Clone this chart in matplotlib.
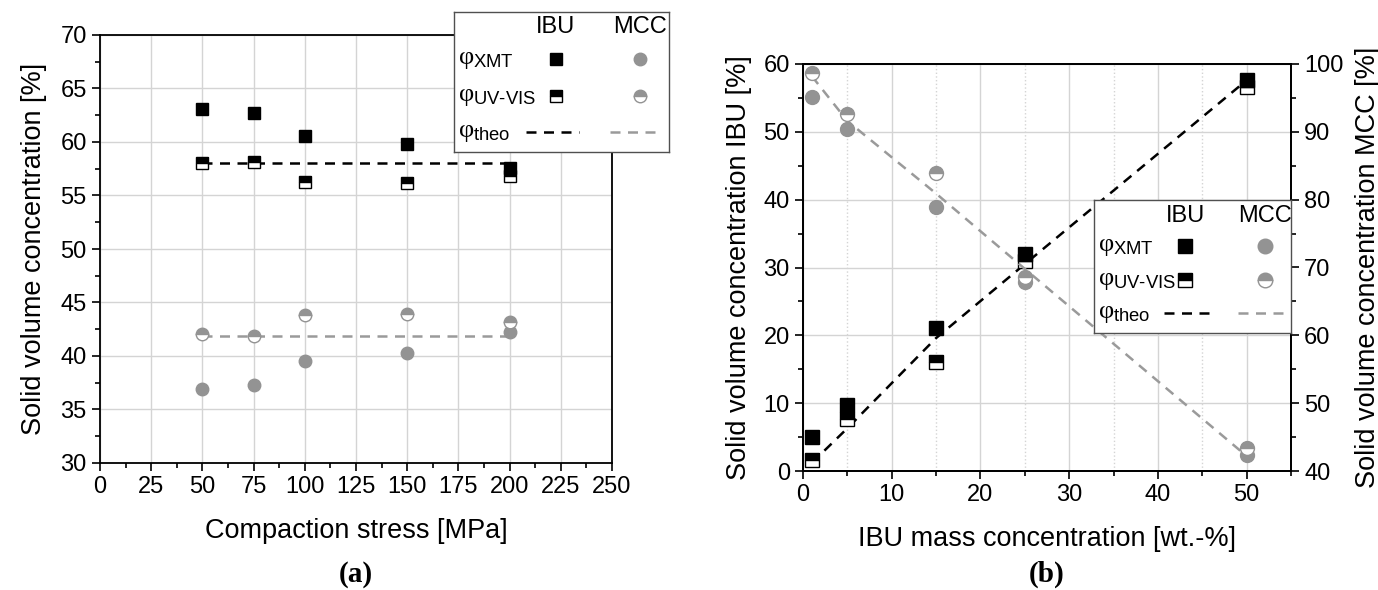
import matplotlib

matplotlib.use("Agg")
import matplotlib.pyplot as plt
from matplotlib.lines import Line2D
from matplotlib.ticker import MultipleLocator

plt.rcParams["font.family"] = ["Liberation Sans", "DejaVu Sans"]
plt.rcParams["mathtext.fontset"] = "custom"
plt.rcParams["mathtext.rm"] = "Liberation Sans"
plt.rcParams["mathtext.it"] = "Liberation Serif"

# (a) solid volume concentration vs compaction stress
stress = [50, 75, 100, 150, 200]
ibu_xmt_a = [63.1, 62.7, 60.6, 59.8, 57.6]
ibu_uv_a = [58.0, 58.1, 56.3, 56.2, 56.8]
mcc_xmt_a = [36.9, 37.3, 39.5, 40.3, 42.2]
mcc_uv_a = [42.1, 41.9, 43.8, 43.9, 43.2]
ibu_theo_a = [58.0, 58.0, 58.0, 58.0, 58.0]
mcc_theo_a = [41.9, 41.9, 41.9, 41.9, 41.9]

# (b) solid volume concentration vs IBU mass concentration
ibu_conc = [1, 5, 15, 25, 50]
ibu_xmt_b = [5.0, 9.7, 21.1, 32.0, 57.7]
ibu_uv_b = [1.6, 7.6, 16.1, 31.0, 56.6]
mcc_xmt_b = [95.2, 90.4, 78.9, 67.9, 42.4]
mcc_uv_b = [98.7, 92.7, 84.0, 68.6, 43.4]
ibu_theo_b = [1.2, 6.3, 19.6, 30.5, 57.6]
mcc_theo_b = [98.2, 91.6, 80.9, 69.8, 42.2]

GRAY = "#939393"
LINE_GRAY = "#9a9a9a"
GRID = "#d4d4d4"
W, H = 1378, 590
TICK_FS = 17
LABEL_FS = 19.5
DASH = (0, (4, 3))


def px_box(x0, y0, x1, y1):
    return [x0 / W, 1 - y1 / H, (x1 - x0) / W, (y1 - y0) / H]


def square(ax, x, y, half, ms, **kw):
    style = dict(marker="s", linestyle="none", ms=ms, mec="black", mew=1.0, mfc="black")
    if half:
        style.update(fillstyle="top", markerfacecoloralt="white")
    style.update(kw)
    ax.plot(x, y, **style)


def circle(ax, x, y, half, ms, **kw):
    style = dict(marker="o", linestyle="none", ms=ms, mec=GRAY, mew=1.0, mfc=GRAY)
    if half:
        style.update(fillstyle="top", markerfacecoloralt="white")
    style.update(kw)
    ax.plot(x, y, **style)


def style_axis(ax):
    for spine in ax.spines.values():
        spine.set_linewidth(1.3)
    ax.tick_params(which="both", direction="out", labelsize=TICK_FS, width=1.2)
    ax.tick_params(which="major", length=6)
    ax.tick_params(which="minor", length=3.5)


def legend_box(fig, rect, ms, cols, rows, lines):
    lax = fig.add_axes(rect, zorder=10)
    lax.set_xlim(0, 1)
    lax.set_ylim(0, 1)
    lax.set_xticks([])
    lax.set_yticks([])
    for spine in lax.spines.values():
        spine.set_linewidth(1.0)
        spine.set_color("#505050")
    ibu_x, mcc_x = cols
    head_y, xmt_y, uv_y, theo_y = rows
    lax.text(ibu_x, head_y, "IBU", ha="center", va="center", fontsize=17)
    lax.text(mcc_x, head_y, "MCC", ha="center", va="center", fontsize=17)
    lax.text(0.02, xmt_y, r"$\varphi_{\mathrm{XMT}}$", ha="left", va="center", fontsize=19)
    lax.text(0.02, uv_y, r"$\varphi_{\mathrm{UV\text{-}VIS}}$", ha="left", va="center", fontsize=19)
    lax.text(0.02, theo_y, r"$\varphi_{\mathrm{theo}}$", ha="left", va="center", fontsize=19)
    square(lax, [ibu_x], [xmt_y], False, ms)
    square(lax, [ibu_x], [uv_y], True, ms)
    circle(lax, [mcc_x], [xmt_y], False, ms + 1)
    circle(lax, [mcc_x], [uv_y], True, ms + 1)
    (b0, b1), (g0, g1) = lines
    lax.add_line(Line2D([b0, b1], [theo_y, theo_y], color="black", lw=1.8, linestyle=DASH))
    lax.add_line(Line2D([g0, g1], [theo_y, theo_y], color=LINE_GRAY, lw=1.8, linestyle=DASH))


fig = plt.figure(figsize=(W / 100, H / 100), dpi=100)

# ---- panel (a)
ax = fig.add_axes(px_box(100, 35, 612, 463))
ax.set_xlim(0, 250)
ax.set_ylim(30, 70)
ax.xaxis.set_major_locator(MultipleLocator(25))
ax.xaxis.set_minor_locator(MultipleLocator(12.5))
ax.yaxis.set_major_locator(MultipleLocator(5))
ax.yaxis.set_minor_locator(MultipleLocator(2.5))
ax.grid(True, which="major", color=GRID, lw=1.0)
ax.set_axisbelow(True)
style_axis(ax)
ax.plot(stress, ibu_theo_a, color="black", lw=1.8, linestyle=DASH)
ax.plot(stress, mcc_theo_a, color=LINE_GRAY, lw=1.8, linestyle=DASH)
square(ax, stress, ibu_uv_a, True, 8)
square(ax, stress, ibu_xmt_a, False, 8)
circle(ax, stress, mcc_xmt_a, False, 9)
circle(ax, stress, mcc_uv_a, True, 9)
ax.set_xlabel("Compaction stress [MPa]", fontsize=LABEL_FS, labelpad=14)
ax.set_ylabel("Solid volume concentration [%]", fontsize=LABEL_FS, labelpad=10)
fig.text(356 / W, 1 - 574 / H, "(a)", ha="center", va="center", fontsize=21,
         fontweight="bold", family="Liberation Serif")

legend_box(fig, px_box(454, 12, 669, 152), 8,
           (0.474, 0.865), (0.893, 0.664, 0.40, 0.143),
           ((0.335, 0.581), (0.726, 0.967)))

# ---- panel (b)
bx = fig.add_axes(px_box(803, 64, 1291, 471))
bx.set_xlim(0, 55)
bx.set_ylim(0, 60)
bx.xaxis.set_major_locator(MultipleLocator(10))
bx.xaxis.set_minor_locator(MultipleLocator(5))
bx.yaxis.set_major_locator(MultipleLocator(10))
bx.yaxis.set_minor_locator(MultipleLocator(5))
bx.grid(True, which="major", color=GRID, lw=1.0)
bx.grid(True, which="minor", axis="x", color=GRID, lw=1.0, linestyle=":")
bx.set_axisbelow(True)
style_axis(bx)

rx = bx.twinx()
rx.set_ylim(40, 100)
rx.yaxis.set_major_locator(MultipleLocator(10))
rx.yaxis.set_minor_locator(MultipleLocator(5))
style_axis(rx)

bx.plot(ibu_conc, ibu_theo_b, color="black", lw=1.8, linestyle=DASH)
rx.plot(ibu_conc, mcc_theo_b, color=LINE_GRAY, lw=1.8, linestyle=DASH)
square(bx, ibu_conc, ibu_uv_b, True, 9.5)
square(bx, ibu_conc, ibu_xmt_b, False, 9.5)
circle(rx, ibu_conc, mcc_xmt_b, False, 10)
circle(rx, ibu_conc, mcc_uv_b, True, 10)

bx.set_xlabel("IBU mass concentration [wt.-%]", fontsize=LABEL_FS, labelpad=14)
bx.set_ylabel("Solid volume concentration IBU [%]", fontsize=LABEL_FS, labelpad=8)
rx.set_ylabel("Solid volume concentration MCC [%]", fontsize=LABEL_FS, labelpad=8)
fig.text(1047 / W, 1 - 574 / H, "(b)", ha="center", va="center", fontsize=21,
         fontweight="bold", family="Liberation Serif")

legend_box(fig, px_box(1094, 200, 1291, 333), 9.5,
           (0.462, 0.868), (0.88, 0.654, 0.398, 0.15),
           ((0.355, 0.599), (0.731, 0.98)))

fig.savefig("out.png", dpi=100)
